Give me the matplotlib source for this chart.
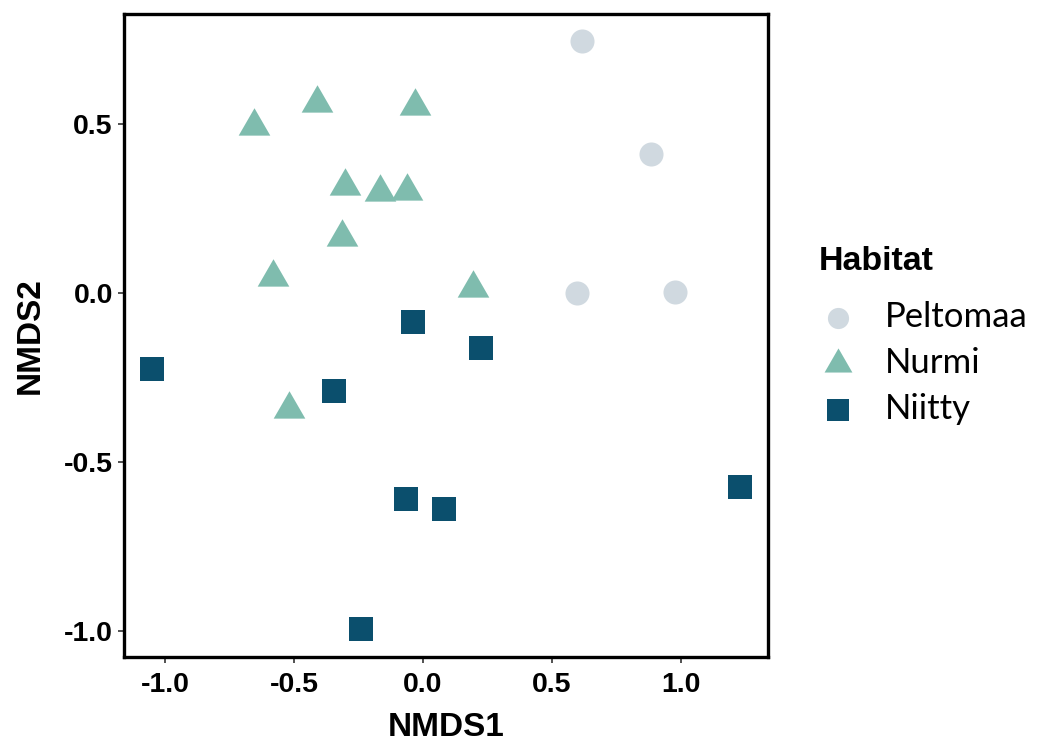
import matplotlib
matplotlib.use("Agg")
import matplotlib.pyplot as plt
from matplotlib.path import Path
import numpy as np

# ---- data ----
habitats = ["Peltomaa", "Nurmi", "Niitty"]
peltomaa_x = [0.616, 0.885, 0.598, 0.979]
peltomaa_y = [0.748, 0.412, 0.000, 0.003]
nurmi_x = [-0.655, -0.410, -0.031, -0.302, -0.166, -0.060, -0.313, -0.580, 0.195, -0.518]
nurmi_y = [0.495, 0.563, 0.553, 0.318, 0.299, 0.302, 0.167, 0.049, 0.014, -0.344]
niitty_x = [-0.037, 0.225, -1.051, -0.345, -0.066, 0.082, -0.239, 1.229]
niitty_y = [-0.084, -0.163, -0.224, -0.291, -0.609, -0.639, -0.994, -0.574]
xticks = [-1.0, -0.5, 0.0, 0.5, 1.0]
yticks = [-1.0, -0.5, 0.0, 0.5]

colors = {"Peltomaa": "#d0d9e0", "Nurmi": "#7fbcae", "Niitty": "#0b4f6d"}
tri = Path([(0, 1), (-0.866, -0.5), (0.866, -0.5), (0, 1)],
           [Path.MOVETO, Path.LINETO, Path.LINETO, Path.CLOSEPOLY])

fig = plt.figure(figsize=(10.41, 7.42), dpi=100)
ax = fig.add_axes([0.1191, 0.1146, 0.6187, 0.8672])

h1 = ax.scatter(peltomaa_x, peltomaa_y, s=300, marker="o", color=colors["Peltomaa"],
                linewidths=0, label="Peltomaa")
h2 = ax.scatter(nurmi_x, nurmi_y, s=692, marker=tri, color=colors["Nurmi"],
                linewidths=0, label="Nurmi")
h3 = ax.scatter(niitty_x, niitty_y, s=300, marker="s", color=colors["Niitty"],
                linewidths=0, label="Niitty")

ax.set_xlim(-1.159, 1.338)
ax.set_ylim(-1.077, 0.828)
ax.set_xticks(xticks)
ax.set_yticks(yticks)
ax.set_xticklabels([f"{v:.1f}" for v in xticks])
ax.set_yticklabels([f"{v:.1f}" for v in yticks])

for sp in ax.spines.values():
    sp.set_linewidth(2.4)
    sp.set_color("black")
ax.tick_params(direction="out", length=4, width=1.2, color="#333333")
ax.tick_params(axis="x", pad=7)
ax.tick_params(axis="y", pad=4)
for lab in ax.get_xticklabels() + ax.get_yticklabels():
    lab.set_fontfamily("Liberation Sans")
    lab.set_fontweight("bold")
    lab.set_fontsize(20.5)
    lab.set_color("black")

ax.set_xlabel("NMDS1", fontfamily="Liberation Sans", fontweight="bold", fontsize=24, labelpad=10)
ax.set_ylabel("NMDS2", fontfamily="Liberation Sans", fontweight="bold", fontsize=24, labelpad=13)

leg = fig.legend(handles=[h1, h2, h3], labels=habitats, title="Habitat",
                 loc="upper left", bbox_to_anchor=(0.7867, 0.668),
                 frameon=False, prop={"family": "Lato", "size": 25},
                 title_fontproperties={"family": "Liberation Sans", "weight": "bold", "size": 24.5},
                 alignment="left", handlelength=1.1, handletextpad=0.8, labelspacing=0.40,
                 borderpad=0, borderaxespad=0, markerscale=0.88)
leg._legend_box.sep = 17.2

fig.savefig("out.png", dpi=100, facecolor="white")
